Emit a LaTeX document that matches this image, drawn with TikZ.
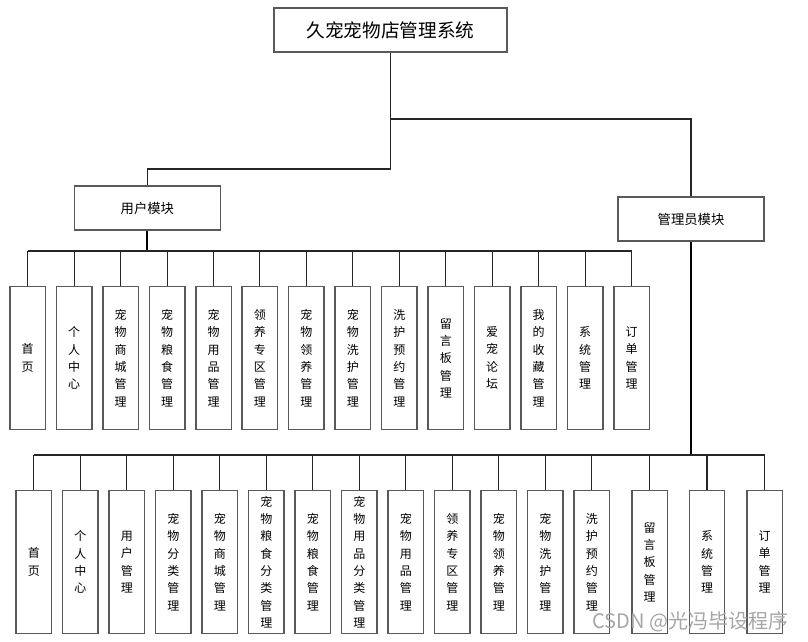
\documentclass[tikz,border=0pt]{standalone}
\usepackage{fontspec}
\setmainfont{Noto Sans CJK SC}
\usetikzlibrary{positioning}
\def\leafW{26.6pt}
\def\leafH{107pt}
\def\userStep{46.45}
\def\adminStep{46.5}

\begin{document}
\begin{tikzpicture}[
    x=0.75pt, y=-0.75pt,
    box/.style={draw=black!65, line width=1.1pt, fill=white, inner sep=0pt},
    root/.style={box, minimum width=174.75pt, minimum height=33pt, font=\fontsize{14}{16}\selectfont},
    module/.style={box, minimum width=109.5pt, minimum height=33pt, font=\fontsize{10}{12}\selectfont},
    leaf/.style={box, minimum width=\leafW, minimum height=\leafH, align=center, font=\fontsize{9}{13}\selectfont},
    link/.style={draw=black!85, line width=0.8pt},
    trunk/.style={draw=black, line width=1.6pt}
]
\useasboundingbox (0,0) rectangle (808,642);

\node[root] (root) at (390.5,30) {久宠宠物店管理系统};
\node[module] (user) at (147.4,208) {用户模块};
\node[module] (admin) at (691,219) {管理员模块};

\coordinate (jr) at (390.5,119);
\coordinate (jl) at (390.5,169);
\draw[link] (root.south) -- (jl) -| (user.north);
\draw[link] (jr) -| (admin.north);

% user side
\foreach \lbl [count=\i from 0] in {{首\\页},{个\\人\\中\\心},{宠\\物\\商\\城\\管\\理},{宠\\物\\粮\\食\\管\\理},
    {宠\\物\\用\\品\\管\\理},{领\\养\\专\\区\\管\\理},{宠\\物\\领\\养\\管\\理},{宠\\物\\洗\\护\\管\\理},
    {洗\\护\\预\\约\\管\\理},{留\\言\\板\\管\\理},{爱\\宠\\论\\坛},{我\\的\\收\\藏\\管\\理},
    {系\\统\\管\\理},{订\\单\\管\\理}}
{
    \node[leaf] (u\i) at ({27.7+\userStep*\i},358) {\lbl};
}
\coordinate (ubus) at (147.4,251);
\draw[trunk] (user.south) -- (user.south |- ubus);
\draw[link] (u0.north |- ubus) -- (u13.north |- ubus);
\foreach \i in {0,...,13}
    \draw[link] (u\i.north) -- (u\i.north |- ubus);

% admin side
\foreach \lbl [count=\i from 0] in {{首\\页},{个\\人\\中\\心},{用\\户\\管\\理},{宠\\物\\分\\类\\管\\理},
    {宠\\物\\商\\城\\管\\理},{宠\\物\\粮\\食\\分\\类\\管\\理},{宠\\物\\粮\\食\\管\\理},
    {宠\\物\\用\\品\\分\\类\\管\\理},{宠\\物\\用\\品\\管\\理},{领\\养\\专\\区\\管\\理},
    {宠\\物\\领\\养\\管\\理},{宠\\物\\洗\\护\\管\\理},{洗\\护\\预\\约\\管\\理}}
{
    \node[leaf] (a\i) at ({33.8+\adminStep*\i},562) {\lbl};
}
\node[leaf] (a13) at (649.5,562) {留\\言\\板\\管\\理};
\node[leaf] (a14) at (707,562) {系\\统\\管\\理};
\node[leaf] (a15) at (764.7,562) {订\\单\\管\\理};
\coordinate (abus) at (691,455);
\draw[trunk] (admin.south) -- (abus);
\draw[link] (a0.north |- abus) -- (a15.north |- abus);
\foreach \i in {0,...,15}
    \draw[link] (a\i.north) -- (a\i.north |- abus);

\node[anchor=east, text=black!35, font=\fontsize{15}{15}\selectfont] (mark) at (793,622) {CSDN @光冯毕设程序};
\end{tikzpicture}
\end{document}
